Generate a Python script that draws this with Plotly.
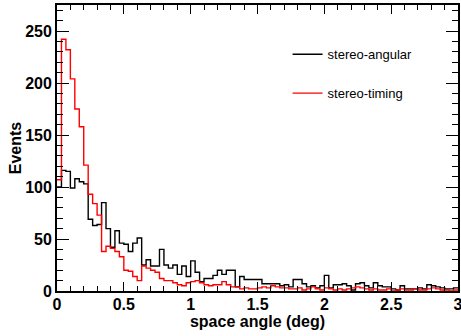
import numpy as np
import plotly.graph_objects as go

# 90 bins from 0 to 3 deg
x_min, x_max, n_bins = 0.0, 3.0, 90

stereo_angular = [100,116,115,99,108,105,103,69,63,64,
                  85,60,42,58,46,45,38,46,51,25,
                  30,24,24,40,25,22,25,16,24,14,
                  29,18,9,12,12,15,20,16,20,20,
                  4,14,11,11,11,11,7,7,7,7,
                  5,6,4,11,11,7,4,5,3,5,
                  15,3,6,6,7,5,1,7,8,5,
                  3,8,5,4,4,2,1,5,2,2,
                  2,3,2,6,5,4,3,2,2,3]

stereo_timing = [107,242,232,204,175,158,121,93,84,73,
                 38,43,41,38,33,20,19,14,10,24,
                 22,20,18,12,10,10,8,6,5,8,
                 9,10,8,6,5,6,6,9,6,4,
                 4,2,3,2,2,3,4,3,5,4,
                 3,3,2,2,3,1,2,4,2,1,
                 3,2,1,2,1,2,3,4,3,2,
                 1,2,1,1,2,0,1,2,1,1,
                 2,1,1,2,3,2,1,1,0,1]

series_names = ["stereo-angular", "stereo-timing"]
series_colors = ["#000000", "#ff0000"]

edges = np.linspace(x_min, x_max, n_bins + 1)

def step_xy(vals):
    xs = list(edges)
    ys = list(vals) + [vals[-1]]
    return xs, ys

fig = go.Figure()
for name, vals, col in zip(series_names, [stereo_angular, stereo_timing], series_colors):
    xs, ys = step_xy(vals)
    fig.add_trace(go.Scatter(x=xs, y=ys, mode="lines", line_shape="hv",
                             line=dict(color=col, width=1.4), name=name,
                             legendgroup=name))

font_family = "Liberation Sans, Arial, Helvetica, sans-serif"
axis_common = dict(
    showgrid=False, zeroline=False, showline=True, linecolor="black", linewidth=1.8,
    mirror="allticks", ticks="inside", tickcolor="black", tickwidth=1.2,
    ticklabeloverflow="allow",
    tickfont=dict(family=font_family, size=16, color="black", weight="bold"),
)

fig.update_xaxes(
    range=[0, 3], dtick=0.5, tick0=0, ticklen=9, ticklabelstandoff=-2,
    minor=dict(dtick=0.1, ticks="inside", ticklen=5, tickcolor="black", tickwidth=1),
    title=dict(text="space angle (deg)", font=dict(family=font_family, size=16, color="black", weight="bold"), standoff=0),
    **axis_common)
fig.update_yaxes(
    range=[0, 275], dtick=50, tick0=0, ticklen=12,
    minor=dict(dtick=10, ticks="inside", ticklen=6, tickcolor="black", tickwidth=1),
    title=dict(text="Events", font=dict(family=font_family, size=16, color="black", weight="bold"), standoff=0),
    **axis_common)

fig.update_layout(
    width=461, height=336,
    margin=dict(l=57, r=3, t=5, b=45, autoexpand=False),
    paper_bgcolor="white", plot_bgcolor="white",
    showlegend=True,
    legend=dict(x=0.575, y=0.88, xanchor="left", yanchor="top",
                bgcolor="rgba(0,0,0,0)", borderwidth=0,
                font=dict(family=font_family, size=13, color="black"),
                traceorder="grouped", tracegroupgap=19),
)

fig.write_html("out.html", config={"displayModeBar": False},
               post_script="document.body.style.margin='0';document.body.style.overflow='hidden';")
